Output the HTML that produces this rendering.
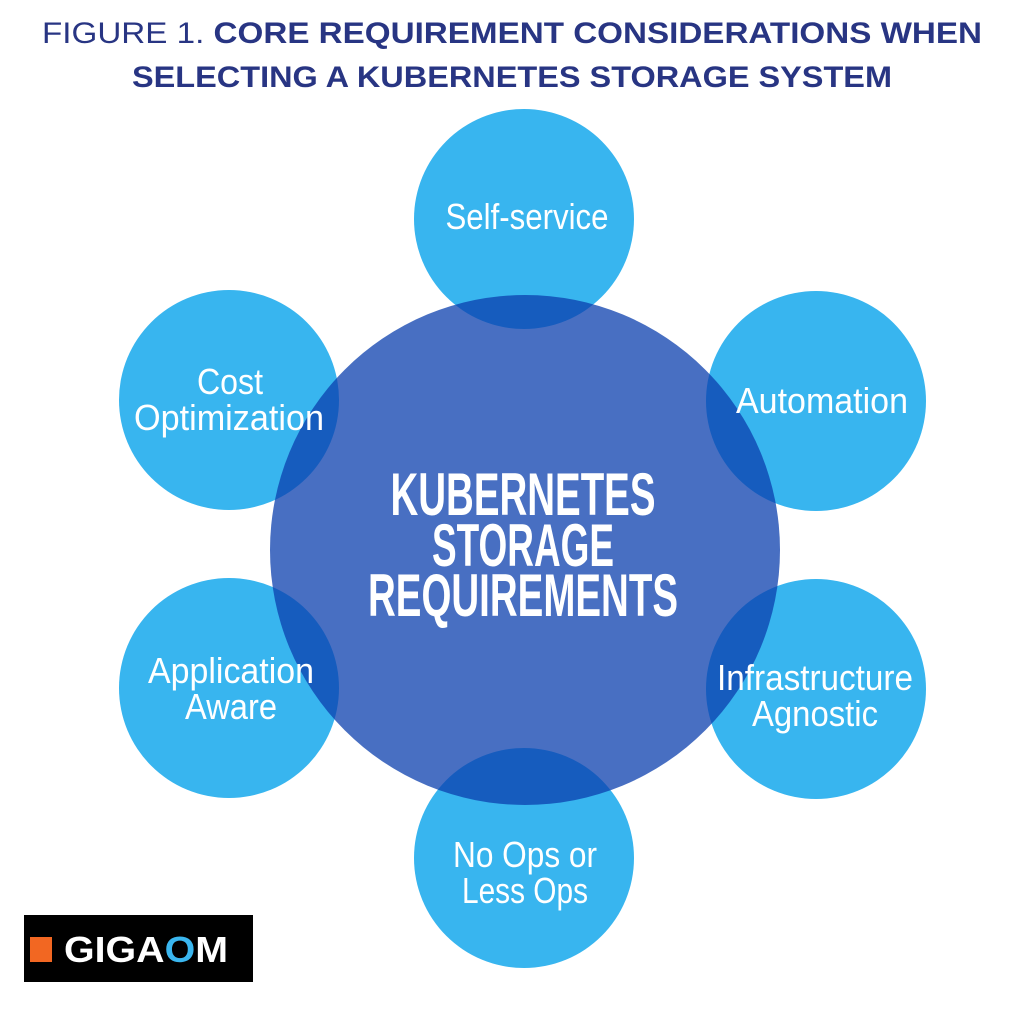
<!DOCTYPE html>
<html><head><meta charset="utf-8">
<style>
html,body{margin:0;padding:0;background:#fff;}
svg{display:block;}
text{font-family:"Liberation Sans Narrow","Liberation Sans",sans-serif;}
</style></head>
<body>
<svg width="1024" height="1031" viewBox="0 0 1024 1031">
  <g fill="#283583" font-size="30">
    <text x="512" y="43" text-anchor="middle" textLength="940" lengthAdjust="spacingAndGlyphs" style="font-family:'Liberation Sans',sans-serif"><tspan>FIGURE 1. </tspan><tspan font-weight="bold">CORE REQUIREMENT CONSIDERATIONS WHEN</tspan></text>
    <text x="512" y="87" text-anchor="middle" font-weight="bold" textLength="760" lengthAdjust="spacingAndGlyphs" style="font-family:'Liberation Sans',sans-serif">SELECTING A KUBERNETES STORAGE SYSTEM</text>
  </g>
  <g fill="#38b5ef">
    <circle cx="524" cy="219" r="110"/>
    <circle cx="816" cy="401" r="110"/>
    <circle cx="229" cy="400" r="110"/>
    <circle cx="229" cy="688" r="110"/>
    <circle cx="816" cy="689" r="110"/>
    <circle cx="524" cy="858" r="110"/>
  </g>
  <circle cx="525" cy="550" r="255" fill="#0b3fae" fill-opacity="0.75"/>
  <g fill="#fff" font-weight="bold" font-size="60" text-anchor="middle">
    <text x="523" y="515" textLength="265" lengthAdjust="spacingAndGlyphs">KUBERNETES</text>
    <text x="523" y="566" textLength="182" lengthAdjust="spacingAndGlyphs">STORAGE</text>
    <text x="523" y="616" textLength="310" lengthAdjust="spacingAndGlyphs">REQUIREMENTS</text>
  </g>
  <g fill="#fff" font-size="36" text-anchor="middle">
    <text x="527" y="229" textLength="163" lengthAdjust="spacingAndGlyphs">Self-service</text>
    <text x="822" y="413" textLength="172" lengthAdjust="spacingAndGlyphs">Automation</text>
    <text x="230" y="394" textLength="66" lengthAdjust="spacingAndGlyphs">Cost</text>
    <text x="229" y="430" textLength="190" lengthAdjust="spacingAndGlyphs">Optimization</text>
    <text x="231" y="683" textLength="166" lengthAdjust="spacingAndGlyphs">Application</text>
    <text x="231" y="719" textLength="92" lengthAdjust="spacingAndGlyphs">Aware</text>
    <text x="815" y="690" textLength="196" lengthAdjust="spacingAndGlyphs">Infrastructure</text>
    <text x="815" y="726" textLength="126" lengthAdjust="spacingAndGlyphs">Agnostic</text>
    <text x="525" y="867" textLength="144" lengthAdjust="spacingAndGlyphs">No Ops or</text>
    <text x="525" y="903" textLength="126" lengthAdjust="spacingAndGlyphs">Less Ops</text>
  </g>
  <g>
    <rect x="24" y="915" width="229" height="67" fill="#000"/>
    <rect x="30" y="937" width="22" height="25" fill="#f26722"/>
    <text x="64" y="962" fill="#fff" font-weight="bold" font-size="36" textLength="164" lengthAdjust="spacingAndGlyphs" style="font-family:'Liberation Sans',sans-serif">GIGA<tspan fill="#3ab6ef">O</tspan>M</text>
  </g>
</svg>
</body></html>
